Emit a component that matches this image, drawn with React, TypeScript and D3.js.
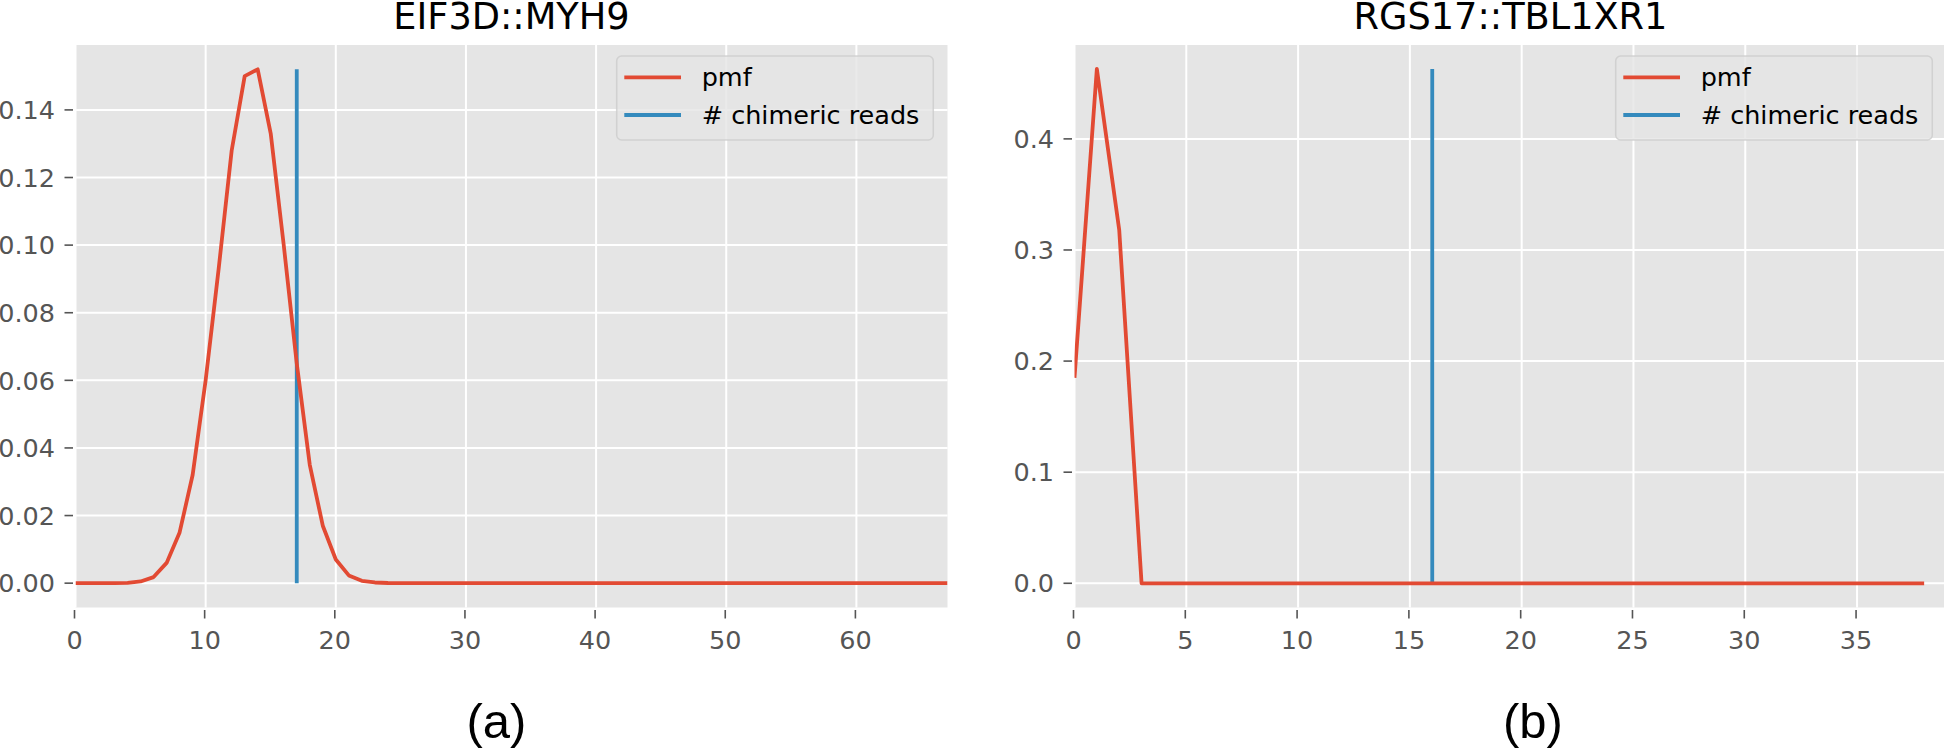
import React from "react";
import * as d3 from "d3";

// two panels: pmf of the expected read count and the observed count
const titles = ["EIF3D::MYH9", "RGS17::TBL1XR1"];
const captions = ["(a)", "(b)"];
const seriesNames = ["pmf", "# chimeric reads"];

// pmf value for k = 0, 1, 2, ...
const pmfA = [
  0, 0, 0, 0.00002, 0.0001, 0.0005, 0.0018, 0.006, 0.015, 0.032,
  0.06, 0.093, 0.128, 0.15, 0.152, 0.133, 0.1, 0.065, 0.035, 0.017,
  0.007, 0.0023, 0.0007, 0.0002, 0.00005, 0, 0, 0, 0, 0,
  0, 0, 0, 0, 0, 0, 0, 0, 0, 0,
  0, 0, 0, 0, 0, 0, 0, 0, 0, 0,
  0, 0, 0, 0, 0, 0, 0, 0, 0, 0,
  0, 0, 0, 0, 0, 0, 0, 0,
];
const pmfB = [
  0.185, 0.463, 0.318, 0, 0, 0, 0, 0, 0, 0,
  0, 0, 0, 0, 0, 0, 0, 0, 0, 0,
  0, 0, 0, 0, 0, 0, 0, 0, 0, 0,
  0, 0, 0, 0, 0, 0, 0, 0, 0,
];
const chimericReads = [17, 16];

const xTicksA = [0, 10, 20, 30, 40, 50, 60];
const yTicksA = [0, 0.02, 0.04, 0.06, 0.08, 0.1, 0.12, 0.14];
const xTicksB = [0, 5, 10, 15, 20, 25, 30, 35];
const yTicksB = [0, 0.1, 0.2, 0.3, 0.4];

const xDomainA = [0, 67];
const xDomainB = [0, 39];
const yDomainA = [-0.0072, 0.1592];
const yDomainB = [-0.0218, 0.4845];

const TOP = 45;
const BOTTOM = 607.5;
const PLOT_W = 872;
const RED = "#E24A33";
const BLUE = "#348ABD";
const FONT = "DejaVu Sans, sans-serif";

type PanelProps = {
  id: string;
  left: number;
  title: string;
  caption: string;
  captionX: number;
  pmf: number[];
  reads: number;
  xDomain: number[];
  yDomain: number[];
  xTicks: number[];
  yTicks: number[];
  yFormat: string;
};

function Panel(p: PanelProps) {
  const x = d3.scaleLinear().domain(p.xDomain).range([p.left, p.left + PLOT_W]);
  const y = d3.scaleLinear().domain(p.yDomain).range([BOTTOM, TOP]);
  const fmt = d3.format(p.yFormat);
  const line = d3
    .line<number>()
    .x((_, i) => x(i))
    .y((d) => y(d));
  const peak = d3.max(p.pmf) || 0;

  const legW = 316.6;
  const legX = p.left + PLOT_W - 14.2 - legW;
  const legY = 56;

  return (
    <g>
      <defs>
        <clipPath id={p.id}>
          <rect x={p.left} y={TOP} width={PLOT_W} height={BOTTOM - TOP} />
        </clipPath>
      </defs>
      <rect x={p.left} y={TOP} width={PLOT_W} height={BOTTOM - TOP} fill="#E5E5E5" />

      {/* grid */}
      <g stroke="#fff" strokeWidth={2}>
        {p.xTicks.map((t) => (
          <line key={"gx" + t} x1={x(t)} x2={x(t)} y1={TOP} y2={BOTTOM} />
        ))}
        {p.yTicks.map((t) => (
          <line key={"gy" + t} x1={p.left} x2={p.left + PLOT_W} y1={y(t)} y2={y(t)} />
        ))}
      </g>

      {/* ticks */}
      <g stroke="#555" strokeWidth={1.6}>
        {p.xTicks.map((t) => (
          <line key={"tx" + t} x1={x(t) - 1} x2={x(t) - 1} y1={BOTTOM + 2.5} y2={BOTTOM + 11} />
        ))}
        {p.yTicks.map((t) => (
          <line key={"ty" + t} x1={p.left - 11} x2={p.left - 2.5} y1={y(t)} y2={y(t)} />
        ))}
      </g>
      <g fill="#555" fontFamily={FONT} fontSize={25.5}>
        {p.xTicks.map((t) => (
          <text key={"lx" + t} x={x(t) - 1} y={BOTTOM + 41} textAnchor="middle">
            {t}
          </text>
        ))}
        {p.yTicks.map((t) => (
          <text key={"ly" + t} x={p.left - 20.5} y={y(t)} dy="0.36em" textAnchor="end">
            {fmt(t)}
          </text>
        ))}
      </g>

      {/* data */}
      <g clipPath={`url(#${p.id})`}>
        <line
          x1={x(p.reads)}
          x2={x(p.reads)}
          y1={y(0)}
          y2={y(peak)}
          stroke={BLUE}
          strokeWidth={3.8}
        />
        <path d={line(p.pmf) || ""} fill="none" stroke={RED} strokeWidth={3.8} strokeLinejoin="round" />
      </g>

      {/* legend */}
      <rect
        x={legX}
        y={legY}
        width={legW}
        height={84}
        rx={5}
        fill="#E5E5E5"
        fillOpacity={0.8}
        stroke="#CCCCCC"
        strokeOpacity={0.8}
        strokeWidth={1.5}
      />
      <line x1={legX + 7.6} x2={legX + 64.3} y1={legY + 21.3} y2={legY + 21.3} stroke={RED} strokeWidth={3.8} />
      <line x1={legX + 7.6} x2={legX + 64.3} y1={legY + 59} y2={legY + 59} stroke={BLUE} strokeWidth={3.8} />
      <g fill="#000" fontFamily={FONT} fontSize={25.5}>
        <text x={legX + 85} y={legY + 29.5}>{seriesNames[0]}</text>
        <text x={legX + 85} y={legY + 67.5}>{seriesNames[1]}</text>
      </g>

      <text
        x={p.left + PLOT_W / 2}
        y={29}
        textAnchor="middle"
        fontFamily={FONT}
        fontSize={36.7}
        fill="#000"
      >
        {p.title}
      </text>
      <text
        x={p.captionX}
        y={738}
        textAnchor="middle"
        fontFamily="Liberation Sans, Arial, sans-serif"
        fontSize={49}
        fill="#000"
      >
        {p.caption}
      </text>
    </g>
  );
}

export default function App() {
  return (
    <svg
      width={1944}
      height={750}
      style={{ position: "absolute", left: 0, top: 0, background: "#fff" }}
    >
      <Panel
        id="clipA"
        left={75.5}
        title={titles[0]}
        caption={captions[0]}
        captionX={496.5}
        pmf={pmfA}
        reads={chimericReads[0]}
        xDomain={xDomainA}
        yDomain={yDomainA}
        xTicks={xTicksA}
        yTicks={yTicksA}
        yFormat=".2f"
      />
      <Panel
        id="clipB"
        left={1074.5}
        title={titles[1]}
        caption={captions[1]}
        captionX={1533}
        pmf={pmfB}
        reads={chimericReads[1]}
        xDomain={xDomainB}
        yDomain={yDomainB}
        xTicks={xTicksB}
        yTicks={yTicksB}
        yFormat=".1f"
      />
    </svg>
  );
}
